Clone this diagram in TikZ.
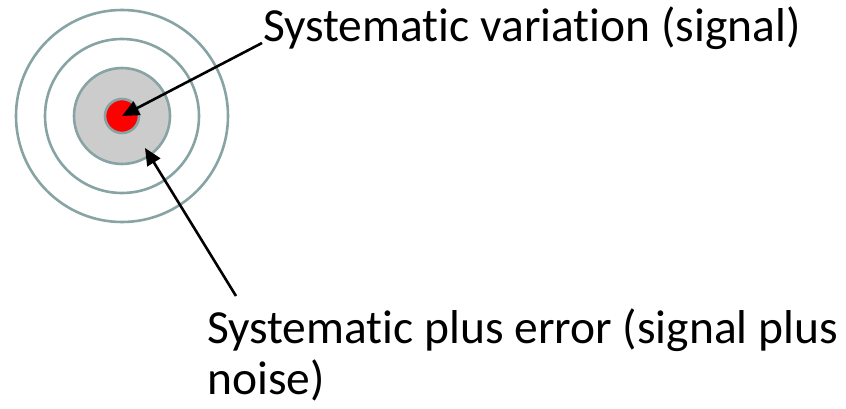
\documentclass[tikz,border=0pt]{standalone}
\usepackage{fontspec}
\setmainfont{Carlito}[Ligatures=NoCommon]
\usetikzlibrary{arrows.meta}
\definecolor{ring}{RGB}{135,163,163}
\definecolor{disc}{RGB}{204,204,204}
\tikzset{
  ringc/.style={circle,draw=ring,line width=2.6pt,inner sep=0pt},
  lbl/.style={font=\fontsize{47.5}{51}\selectfont,inner sep=0pt,align=left},
  arr/.style={line width=2.6pt,-{Triangle[length=17pt,width=15pt]}}
}
\begin{document}
\begin{tikzpicture}[x=1pt,y=-1pt]
\useasboundingbox (0,0) rectangle (846,409);
\node[ringc,minimum size=212pt] (r3) at (122,116) {};
\node[ringc,minimum size=154pt] (r2) at (122,116) {};
\node[ringc,fill=disc,minimum size=96pt] (r1) at (122,116) {};
\node[ringc,fill=red,minimum size=34pt] (c0) at (122,116) {};
\node[lbl,anchor=base west] (t1) at (263,42) {Systematic variation (signal)};
\node[lbl,anchor=base west] (t2) at (207,394) {Systematic plus error (signal plus\\noise)};
\coordinate (s1) at (262,43);
\coordinate (s2) at (236,296);
\coordinate (e2) at (145,148);
\draw[arr] (s1) -- (c0.center);
\draw[arr] (s2) -- (e2);
\end{tikzpicture}
\end{document}
